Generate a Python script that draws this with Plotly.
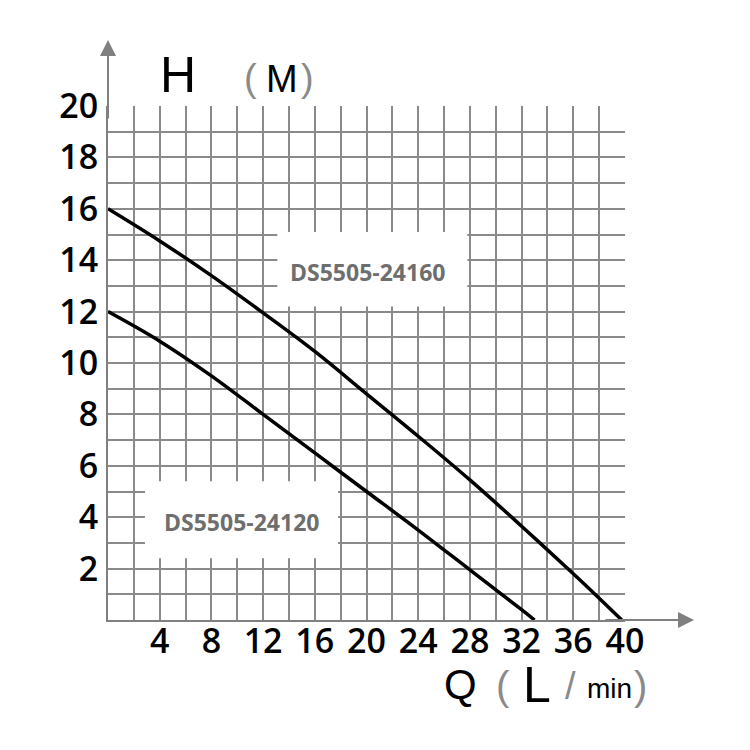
import plotly.graph_objects as go

# ---- data ----
q_24160 = [0, 4, 8, 12, 16, 20, 24, 28, 32, 36, 38, 39.75]
h_24160 = [16, 14.75, 13.4, 11.95, 10.45, 8.8, 7.15, 5.45, 3.65, 1.8, 0.85, 0]
q_24120 = [0, 4, 8, 12, 16, 20, 24, 28, 32, 33]
h_24120 = [12, 10.85, 9.5, 8.0, 6.5, 5.0, 3.5, 1.95, 0.4, 0]

series_names = ["DS5505-24160", "DS5505-24120"]

x_grid = list(range(0, 41, 2))
x_labels = [str(v) if v % 4 == 0 and v > 0 else "" for v in x_grid]
y_grid = list(range(0, 21, 1))
y_labels = [str(v) if v % 2 == 0 and v > 0 else "" for v in y_grid]

GRID = "#8a8a8a"
AX = "#808080"

fig = go.Figure()
for q, h, nm in [(q_24160, h_24160, series_names[0]), (q_24120, h_24120, series_names[1])]:
    fig.add_trace(go.Scatter(x=q, y=h, mode="lines",
                             line=dict(color="black", width=3.5, shape="spline", smoothing=1.0),
                             name=nm, showlegend=False, hoverinfo="skip"))

# page is offset by 8px body margin -> figure spans page 8..750
W = H = 742
L, T = 100, 98
PW, PH = 517, 514
R = W - L - PW
B = H - T - PH


def px(xp):  # page pixel -> paper
    return (xp - 108) / PW


def py(yp):
    return (620 - yp) / PH


# white label boxes that cover the grid
boxes = [(13.1, 27.8, 12.2, 15.1), (2.86, 17.8, 2.4, 5.4)]
for (x0, x1, y0, y1) in boxes:
    fig.add_shape(type="rect", x0=x0, x1=x1, y0=y0, y1=y1, xref="x", yref="y",
                  fillcolor="white", line=dict(width=0), layer="above")

box_text_pos = [(20.1, 13.55), (10.3, 3.8)]
for name, (bx, by) in zip(series_names, box_text_pos):
    fig.add_annotation(x=bx, y=by, xref="x", yref="y", text=name, showarrow=False,
                       font=dict(family="Open Sans", size=23, color="#6e6e6e", weight=700))

# axis arrows
fig.add_annotation(x=px(694), y=0, xref="paper", yref="paper", ax=-90, ay=0,
                   axref="pixel", ayref="pixel", text="", showarrow=True,
                   arrowhead=2, arrowsize=1.6, arrowwidth=2, arrowcolor=AX)
fig.add_annotation(x=0, y=py(40), xref="paper", yref="paper", ax=0, ay=80,
                   text="", showarrow=True,
                   arrowhead=2, arrowsize=1.6, arrowwidth=2, arrowcolor=AX)


def txt(xp, yp, s, size, color="black", family="Liberation Sans"):
    fig.add_annotation(x=px(xp), y=py(yp), xref="paper", yref="paper", text=s,
                       showarrow=False, xanchor="center", yanchor="middle",
                       font=dict(family=family, size=size, color=color))


PAREN = "#8a8a8a"
txt(178, 75, "H", 50)
txt(250, 78, "(", 38, PAREN)
txt(282, 79, "M", 38)
txt(307, 78, ")", 38, PAREN)

txt(460, 684, "Q", 42)
txt(503, 686, "(", 40, PAREN)
txt(537, 685, "L", 50)
txt(570, 686, "/", 38, PAREN)
txt(609, 688, "min", 28)
txt(640, 686, ")", 40, PAREN)

tickfont = dict(family="Open Sans", size=34, color="black", weight=600)

fig.update_layout(
    width=W, height=H,
    margin=dict(l=L, r=R, t=T, b=B, pad=0),
    paper_bgcolor="white", plot_bgcolor="white",
    xaxis=dict(range=[0, 40], tickmode="array", tickvals=x_grid, ticktext=x_labels,
               showgrid=True, gridcolor=GRID, gridwidth=2, zeroline=False,
               showline=True, linecolor=AX, linewidth=2, mirror=False,
               ticks="", tickfont=tickfont, ticklabelstandoff=-10, fixedrange=True),
    yaxis=dict(range=[0, 20], tickmode="array", tickvals=y_grid, ticktext=y_labels,
               showgrid=True, gridcolor=GRID, gridwidth=2, zeroline=False,
               showline=True, linecolor=AX, linewidth=2, mirror=False,
               ticks="", tickfont=tickfont, ticklabelstandoff=1, fixedrange=True),
)

fig.write_html("out.html")
